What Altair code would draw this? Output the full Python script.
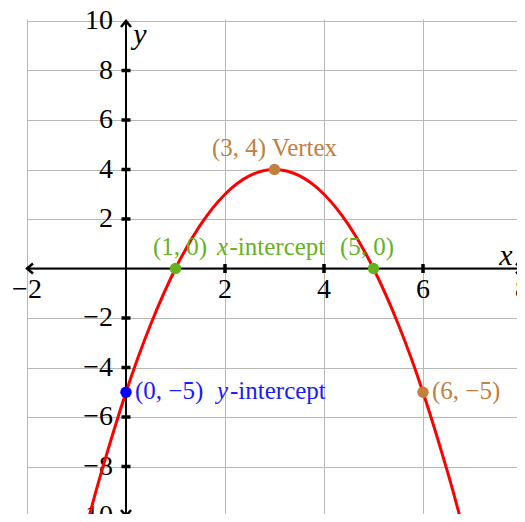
import altair as alt
import pandas as pd

FONT = "Liberation Serif"

# ---- data ----
curve_x = [-0.75, -0.5, 0, 0.5, 1, 1.5, 2, 2.5, 3, 3.5, 4, 4.5, 5, 5.5, 6, 6.5, 6.75]
curve_y = [-10.06, -8.25, -5, -2.25, 0, 1.75, 3, 3.75, 4, 3.75, 3, 1.75, 0, -2.25, -5, -8.25, -10.06]

pt_x = [3, 1, 5, 0, 6]
pt_y = [4, 0, 0, -5, -5]
pt_color = ["#bf8040", "#66b21e", "#66b21e", "#0000ff", "#bf8040"]

grid_x = [-2, 0, 2, 4, 6, 8]
grid_y = [-10, -8, -6, -4, -2, 0, 2, 4, 6, 8, 10]

xtick_vals = [-2, 2, 4, 6, 8]
xtick_text = ["\u22122", "2", "4", "6", "8"]
ytick_vals = [-10, -8, -6, -4, -2, 2, 4, 6, 8, 10]
ytick_text = ["\u221210", "\u22128", "\u22126", "\u22124", "\u22122", "2", "4", "6", "8", "10"]
xmark_vals = [2, 4, 6]
ymark_vals = [-8, -6, -4, -2, 2, 4, 6, 8]

x_domain = [-2, 8]
y_domain = [-10, 10]

TAN = "#bf8040"
GREEN = "#66b21e"
BLUE = "#1a1aff"

# plot frame is 495 x 495 px; the visible page crops its right and bottom edges
FRAME = 495
W, H = 490, 493

xaxis = alt.Axis(values=grid_x, grid=True, labels=False, ticks=False, domain=False,
                 title=None, gridColor="#b8b8b8", gridWidth=1)
yaxis = alt.Axis(values=grid_y, grid=True, labels=False, ticks=False, domain=False,
                 title=None, gridColor="#b8b8b8", gridWidth=1)
xs = alt.Scale(domain=x_domain, nice=False, zero=False, range=[0, FRAME])
ys = alt.Scale(domain=y_domain, nice=False, zero=False, range=[FRAME, 0])


def X(f="x"):
    return alt.X(f"{f}:Q", scale=xs, axis=xaxis)


def Y(f="y"):
    return alt.Y(f"{f}:Q", scale=ys, axis=yaxis)


layers = []

xline = pd.DataFrame({"x": [x_domain[0]], "x2": [x_domain[1]], "y": [0]})
yline = pd.DataFrame({"x": [0], "y": [y_domain[0]], "y2": [y_domain[1]]})
layers.append(alt.Chart(xline).mark_rule(color="black", strokeWidth=2).encode(
    x=X(), x2="x2:Q", y=Y()))
layers.append(alt.Chart(yline).mark_rule(color="black", strokeWidth=2).encode(
    x=X(), y=Y(), y2="y2:Q"))

xt = pd.DataFrame({"x": xmark_vals, "y": [0] * len(xmark_vals)})
yt = pd.DataFrame({"x": [0] * len(ymark_vals), "y": ymark_vals})
layers.append(alt.Chart(xt).mark_point(shape="M 0 -1 L 0 1", size=81, strokeWidth=3.5,
                                       color="black", filled=False, opacity=1).encode(x=X(), y=Y()))
layers.append(alt.Chart(yt).mark_point(shape="M -1 0 L 1 0", size=81, strokeWidth=3.5,
                                       color="black", filled=False, opacity=1).encode(x=X(), y=Y()))


def arrow(x, y, path):
    df = pd.DataFrame({"x": [x], "y": [y]})
    return alt.Chart(df).mark_point(shape=path, size=100, strokeWidth=2.5, color="black",
                                    filled=False, opacity=1, strokeJoin="miter").encode(x=X(), y=Y())


layers.append(arrow(x_domain[0], 0, "M 1.2 -1 L 0 0 L 1.2 1"))
layers.append(arrow(x_domain[1], 0, "M -1.2 -1 L 0 0 L -1.2 1"))
layers.append(arrow(0, y_domain[1], "M -1 1.2 L 0 0 L 1 1.2"))
layers.append(arrow(0, y_domain[0], "M -1 -1.2 L 0 0 L 1 -1.2"))

xl = pd.DataFrame({"x": xtick_vals, "y": [0] * len(xtick_vals), "t": xtick_text})
yl = pd.DataFrame({"x": [0] * len(ytick_vals), "y": ytick_vals, "t": ytick_text})
layers.append(alt.Chart(xl).mark_text(font=FONT, fontSize=28, baseline="top", align="center",
                                      dy=7, color="black").encode(x=X(), y=Y(), text="t:N"))
layers.append(alt.Chart(yl).mark_text(font=FONT, fontSize=28, baseline="middle", align="right",
                                      dx=-13, color="black").encode(x=X(), y=Y(), text="t:N"))

cdf = pd.DataFrame({"x": curve_x, "y": curve_y})
layers.append(alt.Chart(cdf).mark_line(color="#ff0000", strokeWidth=3, interpolate="natural",
                                       clip=True).encode(x=X(), y=Y()))

pdf = pd.DataFrame({"x": pt_x, "y": pt_y, "c": pt_color})
layers.append(alt.Chart(pdf).mark_circle(size=130, opacity=1).encode(
    x=X(), y=Y(), color=alt.Color("c:N", scale=None)))


def label(x, y, text, color, dx=0, dy=0, align="center", italic=False, size=25):
    df = pd.DataFrame({"x": [x], "y": [y], "t": [text]})
    return alt.Chart(df).mark_text(font=FONT, fontSize=size, align=align, baseline="middle",
                                   dx=dx, dy=dy, color=color,
                                   fontStyle="italic" if italic else "normal").encode(
        x=X(), y=Y(), text="t:N")


layers.append(label(pt_x[0], pt_y[0], "(3, 4) Vertex", TAN, dy=-22))
layers.append(label(3, 0, "(1, 0)", GREEN, dx=-94.5, dy=-22))
layers.append(label(3, 0, "x", GREEN, dx=-52, dy=-22, italic=True))
layers.append(label(3, 0, "-intercept", GREEN, dx=-45, dy=-22, align="left"))
layers.append(label(3, 0, "(5, 0)", GREEN, dx=92.5, dy=-22))
layers.append(label(pt_x[3], pt_y[3], "(0, \u22125)", BLUE, dx=9, dy=-1, align="left"))
layers.append(label(pt_x[3], pt_y[3], "y", BLUE, dx=96.5, dy=-1, italic=True))
layers.append(label(pt_x[3], pt_y[3], "-intercept", BLUE, dx=104, dy=-1, align="left"))
layers.append(label(pt_x[4], pt_y[4], "(6, \u22125)", TAN, dx=9, dy=-1, align="left"))

layers.append(label(x_domain[1], 0, "x", "black", dx=-16, dy=-13, italic=True, size=30))
layers.append(label(0, y_domain[1], "y", "black", dx=14, dy=14, italic=True, size=30))

chart = alt.layer(*layers).properties(
    width=W, height=H,
    padding={"left": 19, "top": 13, "right": 0, "bottom": 0},
    autosize="none",
).configure_view(stroke=None)

chart.save("out.html", embed_options={"renderer": "svg", "actions": False})
